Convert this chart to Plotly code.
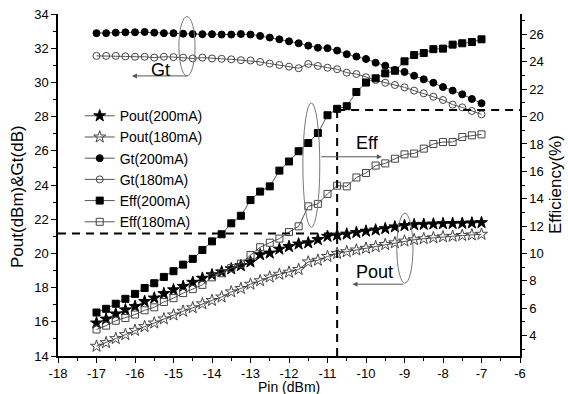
import plotly.graph_objects as go

pin = [-17 + 0.25 * i for i in range(41)]

pout_200 = [15.93, 16.16, 16.46, 16.70, 16.90, 17.19, 17.39, 17.65, 17.87, 18.07,
            18.31, 18.55, 18.75, 18.92, 19.10, 19.28, 19.50, 19.92, 20.02, 20.25,
            20.40, 20.55, 20.62, 20.81, 21.00, 21.07, 21.13, 21.22, 21.30, 21.37,
            21.45, 21.55, 21.63, 21.68, 21.70, 21.72, 21.74, 21.75, 21.76, 21.78, 21.80]
pout_180 = [14.57, 14.78, 15.02, 15.25, 15.50, 15.72, 15.93, 16.17, 16.40, 16.62,
            16.82, 17.05, 17.25, 17.45, 17.75, 17.95, 18.20, 18.40, 18.62, 18.78,
            18.90, 19.06, 19.50, 19.60, 19.82, 20.00, 20.10, 20.20, 20.30, 20.40,
            20.52, 20.62, 20.72, 20.80, 20.86, 20.92, 20.97, 21.00, 21.05, 21.08, 21.12]
gt_200 = [32.88, 32.88, 32.91, 32.93, 32.93, 32.95, 32.91, 32.88, 32.88, 32.85,
          32.83, 32.82, 32.82, 32.80, 32.80, 32.83, 32.80, 32.72, 32.62, 32.52,
          32.40, 32.29, 32.15, 32.03, 32.00, 31.86, 31.65, 31.51, 31.37, 31.15,
          30.98, 30.73, 30.61, 30.39, 30.18, 29.98, 29.73, 29.52, 29.30, 29.03, 28.78]
gt_180 = [31.55, 31.55, 31.55, 31.52, 31.50, 31.50, 31.45, 31.50, 31.48, 31.45,
          31.40, 31.45, 31.40, 31.38, 31.35, 31.30, 31.28, 31.20, 31.10, 31.02,
          30.92, 30.83, 31.08, 30.96, 30.86, 30.77, 30.57, 30.49, 30.30, 30.14,
          29.98, 29.85, 29.71, 29.52, 29.36, 29.16, 28.97, 28.70, 28.54, 28.33, 28.13]
eff_200 = [5.68, 5.95, 6.32, 6.68, 7.04, 7.47, 7.82, 8.28, 8.70, 9.18,
           9.60, 10.25, 10.88, 11.40, 12.20, 12.75, 13.90, 14.52, 14.90, 16.05,
           16.72, 17.47, 18.07, 18.80, 20.10, 20.57, 20.76, 21.80, 22.49, 22.80,
           23.16, 23.35, 24.04, 24.50, 24.65, 24.93, 24.97, 25.26, 25.36, 25.45, 25.65]
eff_180 = [4.44, 4.72, 5.08, 5.28, 5.53, 5.84, 6.06, 6.45, 6.73, 7.10,
           7.39, 7.70, 8.25, 8.55, 8.92, 9.25, 9.88, 10.45, 10.78, 11.08,
           11.56, 11.98, 13.44, 13.62, 14.35, 14.95, 14.90, 15.55, 15.88, 16.42,
           16.58, 16.92, 17.24, 17.30, 17.66, 18.00, 18.14, 18.14, 18.51, 18.63, 18.70]

x_ticks = list(range(-18, -5))
x_ticktext = [str(v) for v in x_ticks]
y_ticks = list(range(14, 35, 2))
y2_ticks = list(range(4, 27, 2))

# operating point (dashed guide lines)
op_pin = -10.75
op_pout = 21.17
op_eff_left = 28.39

FONT = "Liberation Sans, Arial, sans-serif"
fig = go.Figure()

series = [
    ("Pout(200mA)", pout_200, "star", "y", "black"),
    ("Pout(180mA)", pout_180, "star-open", "y", "#444"),
    ("Gt(200mA)", gt_200, "circle", "y", "black"),
    ("Gt(180mA)", gt_180, "circle-open", "y", "#444"),
    ("Eff(200mA)", eff_200, "square", "y2", "black"),
    ("Eff(180mA)", eff_180, "square-open", "y2", "#444"),
]
for name, vals, sym, ax, col in series:
    size = 9 if "star" in sym else 7
    fig.add_trace(go.Scatter(
        x=pin, y=vals, name=name, yaxis=ax, mode="lines+markers",
        line=dict(color="#555", width=1),
        marker=dict(symbol=sym, size=size, color=col, line=dict(color=col, width=1)),
    ))

shapes = []
dash = dict(color="black", width=2, dash="8px,6px")
shapes.append(dict(type="line", xref="x", yref="y", x0=-18, x1=op_pin, y0=op_pout, y1=op_pout, line=dash))
shapes.append(dict(type="line", xref="x", yref="y", x0=op_pin, x1=op_pin, y0=14, y1=op_eff_left, line=dash))
shapes.append(dict(type="line", xref="x", yref="y", x0=op_pin, x1=-6, y0=op_eff_left, y1=op_eff_left, line=dash))
ell = dict(color="#777", width=1)
shapes.append(dict(type="circle", xref="x", yref="y", x0=-14.86, x1=-14.44, y0=30.38, y1=33.85, line=ell))
shapes.append(dict(type="circle", xref="x", yref="y", x0=-11.64, x1=-11.2, y0=21.53, y1=28.8, line=ell))
shapes.append(dict(type="circle", xref="x", yref="y", x0=-9.2, x1=-8.78, y0=18.26, y1=22.35, line=ell))

annotations = []
arrow = dict(showarrow=True, arrowhead=2, arrowsize=1, arrowwidth=1, arrowcolor="#555",
             axref="x", ayref="y", xref="x", yref="y", text="")
annotations.append(dict(arrow, x=-16.08, y=30.38, ax=-14.6, ay=30.38))
annotations.append(dict(arrow, x=-9.59, y=25.65, ax=-11.2, ay=25.65))
annotations.append(dict(arrow, x=-10.35, y=18.2, ax=-8.99, ay=18.2))
txt = dict(showarrow=False, xref="x", yref="y", font=dict(family=FONT, size=18, color="black"))
annotations.append(dict(txt, x=-15.35, y=30.75, text="Gt"))
annotations.append(dict(txt, x=-9.95, y=26.45, text="Eff"))
annotations.append(dict(txt, x=-9.79, y=18.93, text="Pout"))
# axis titles
annotations.append(dict(text="Efficiency(%)", xref="paper", yref="paper", x=1.0, xshift=35,
                        y=0.5, textangle=-90, showarrow=False, xanchor="center", yanchor="middle",
                        font=dict(family=FONT, size=17, color="black")))
annotations.append(dict(text="Pout(dBm)&Gt(dB)", xref="paper", yref="paper", x=0.0, xshift=-41,
                        y=0.5, yshift=-12, textangle=-90, showarrow=False, xanchor="center",
                        yanchor="middle", font=dict(family=FONT, size=17, color="black")))
annotations.append(dict(text="Pin (dBm)", xref="paper", yref="paper", x=0.5, y=0.0, yshift=-31,
                        showarrow=False, xanchor="center", yanchor="middle",
                        font=dict(family=FONT, size=14, color="black")))

axis_common = dict(showline=True, linecolor="black", linewidth=1.5, ticks="outside", ticklen=5,
                   tickcolor="black", showgrid=False, zeroline=False, automargin=False)

fig.update_layout(
    template="none",
    width=568, height=394,
    margin=dict(l=58, r=48, t=14, b=38),
    paper_bgcolor="white", plot_bgcolor="white",
    font=dict(family=FONT, size=13, color="black"),
    showlegend=True,
    legend=dict(x=0.047, y=0.748, xanchor="left", yanchor="top", bgcolor="rgba(0,0,0,0)",
                font=dict(family=FONT, size=14), tracegroupgap=0, itemwidth=30),
    xaxis=dict(axis_common, range=[-18, -6], tickvals=x_ticks, ticktext=x_ticktext,
               minor=dict(ticks="outside", ticklen=3, dtick=0.5, tickcolor="black")),
    yaxis=dict(axis_common, range=[14, 34], tickvals=y_ticks,
               minor=dict(ticks="outside", ticklen=3, dtick=1, tickcolor="black")),
    yaxis2=dict(axis_common, range=[2.5, 27.5], tickvals=y2_ticks, overlaying="y", side="right",
                minor=dict(ticks="outside", ticklen=3, dtick=1, tickcolor="black")),
    shapes=shapes, annotations=annotations,
)

# remove the default page margin so the figure sits at the window's top-left corner
fig.write_html("out.html", config={"displayModeBar": False},
               post_script="document.body.style.margin='0px';")
